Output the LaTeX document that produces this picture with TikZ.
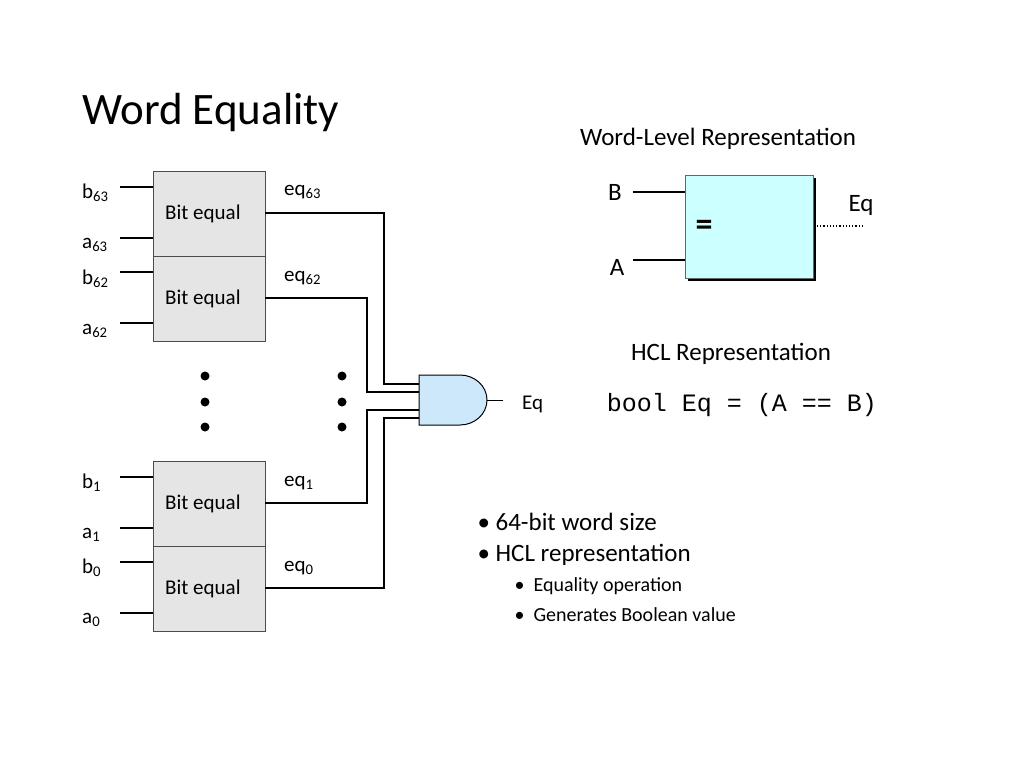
\documentclass[tikz,border=0pt]{standalone}
\usepackage{fontspec}
\setmainfont{Carlito}
\newfontfamily\monof{Liberation Mono}
\definecolor{gatec}{RGB}{204,232,250}
\definecolor{boxc}{RGB}{204,255,255}
\begin{document}
\begin{tikzpicture}[x=1pt,y=-1pt,
  blk/.style={draw=black!70,fill=black!10,line width=0.8pt},
  w/.style={line width=1.6pt},
  lbl/.style={font=\fontsize{21}{24}\selectfont,inner sep=0pt},
  big/.style={font=\fontsize{25}{28}\selectfont},
  dot/.style={circle,fill=black,inner sep=0pt,minimum size=9pt}]
\useasboundingbox (0,0) rectangle (1024,767);
\node[anchor=west,inner sep=0pt,font=\fontsize{45}{50}\selectfont] (title) at (82,113) {Word Equality};
% blocks
\foreach \n/\t in {1/171,2/256,3/461,4/546}{
  \node[blk,minimum width=112pt,minimum height=85pt,anchor=north west,inner sep=0pt] (B\n) at (153,\t) {};
  \node[lbl,anchor=west] (BL\n) at (165,\t+43) {Bit equal};
}
% inputs
\foreach \y/\s/\ly in {187/b\textsubscript{63}/193,238/a\textsubscript{63}/245,272/b\textsubscript{62}/279,323/a\textsubscript{62}/331,477/b\textsubscript{1}/483,528/a\textsubscript{1}/535,562/b\textsubscript{0}/568,613/a\textsubscript{0}/620}{
  \coordinate (i) at (120,\y);
  \draw[w] (i) -- (153,\y);
  \node[lbl,anchor=west] at (82,\ly) {\s};
}
% gate
\draw[line width=1pt,fill=gatec] (419,375) -- (460,375) arc[start angle=90,end angle=-90,x radius=27pt,y radius=25pt] -- (419,425) -- cycle;
\coordinate (gout) at (503,400);
\draw[line width=1pt] (487,400) -- (gout);
\node[lbl,anchor=west] (eqout) at (522,404) {Eq};
% eq wires
\draw[w] (265,213) -- (384,213) -- (384,384) -- (419,384);
\draw[w] (265,298) -- (367,298) -- (367,392) -- (419,392);
\draw[w] (265,503) -- (367,503) -- (367,410) -- (419,410);
\draw[w] (265,588) -- (384,588) -- (384,418) -- (419,418);
\node[lbl,anchor=west] at (284,192) {eq\textsubscript{63}};
\node[lbl,anchor=west] at (284,278) {eq\textsubscript{62}};
\node[lbl,anchor=west] at (284,483) {eq\textsubscript{1}};
\node[lbl,anchor=west] at (284,568) {eq\textsubscript{0}};
\foreach \x in {205,342}\foreach \y in {376,402,427}\node[dot] at (\x,\y) {};
% word-level
\node[big] (wlr) at (718,139) {Word-Level Representation};
\fill[black] (688,178) rectangle (816,281);
\node[draw=black!60,fill=boxc,line width=0.8pt,minimum width=128pt,minimum height=103pt,anchor=north west,inner sep=0pt] (eqb) at (685,175) {};
\node[font=\bfseries\fontsize{34}{34}\selectfont] at (704,228) {=};
\draw[w] (633,192) -- (685,192);
\draw[w] (633,260) -- (685,260);
\node[big] at (615,192) {B};
\node[big] at (617,267) {A};
\draw[line width=1.2pt,dotted] (817,226) -- (862,226);
\node[big] at (861,205) {Eq};
\node[big] (hcl) at (731,354) {HCL Representation};
\node[font=\monof\fontsize{25}{28}\selectfont] (code) at (742,405) {bool Eq = (A == B)};
% bullets
\node[anchor=west,big] at (474,522) {\textbullet\ 64-bit word size};
\node[anchor=west,big] at (474,555) {\textbullet\ HCL representation};
\node[anchor=west,font=\fontsize{20}{24}\selectfont] at (511,586) {\textbullet\ \ Equality operation};
\node[anchor=west,font=\fontsize{20}{24}\selectfont] at (511,615) {\textbullet\ \ Generates Boolean value};
\end{tikzpicture}
\end{document}
